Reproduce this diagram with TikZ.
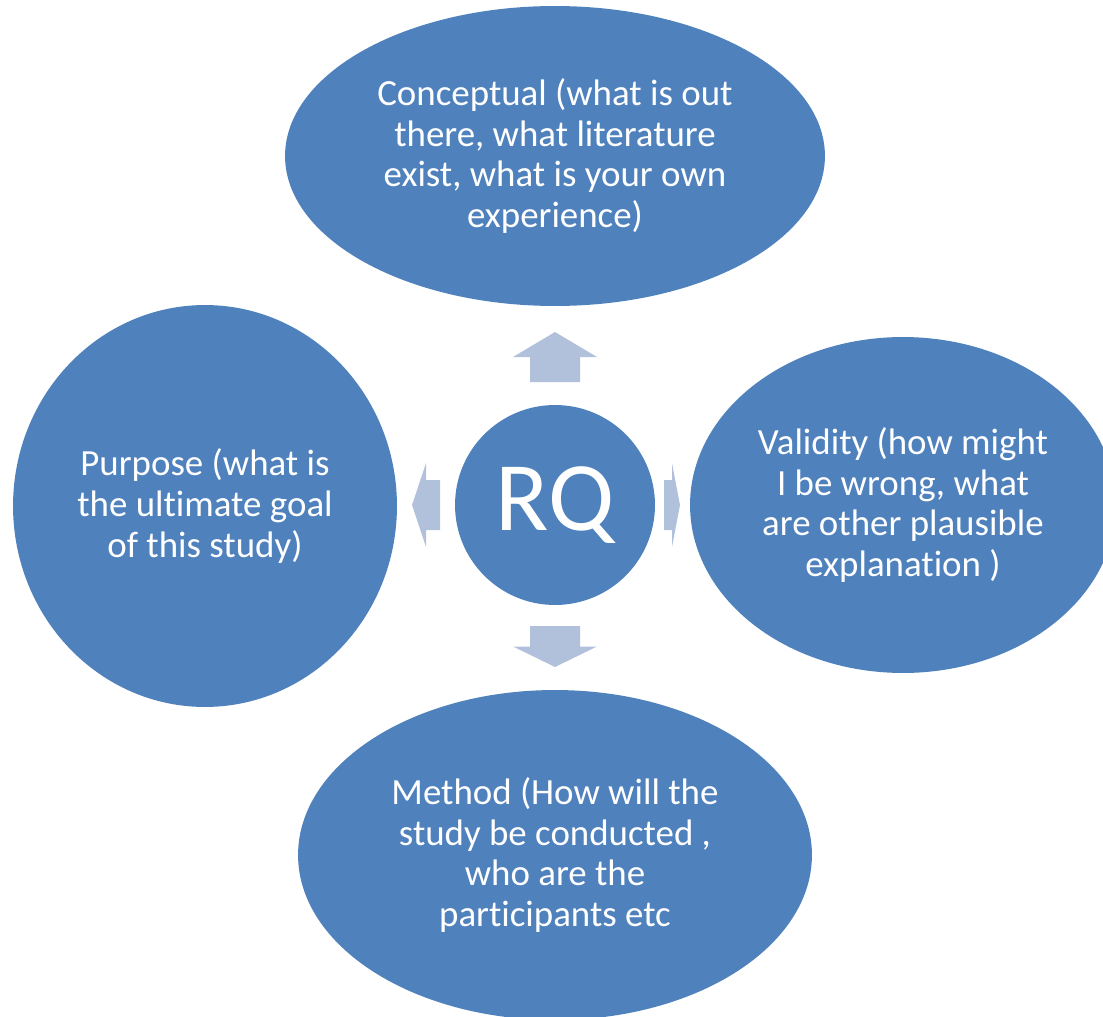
\documentclass[tikz,border=0pt]{standalone}
\usepackage{fontspec}
\setmainfont{Carlito}[Ligatures=NoCommon]
\usepackage{tikz}
\usetikzlibrary{shapes.geometric}
\definecolor{rqblue}{HTML}{4F81BD}
\definecolor{spokeblue}{HTML}{B2C1DB}
\tikzset{
  bub/.style={ellipse, fill=rqblue, draw=none, inner sep=0pt, align=center,
              text=white, font=\fontsize{21}{23.3}\selectfont},
  spoke/.style={fill=spokeblue, draw=none},
}

\begin{document}
\begin{tikzpicture}[x=0.02cm, y=-0.02cm]
\useasboundingbox (0,0) rectangle (1103,1017);

% ---------------- the question in the middle ------------------------------
\node[bub, circle, minimum size=4cm, font=\fontsize{56}{60}\selectfont]
  at (555,505) (rq) {RQ};

% ---------------- the four bubbles round it -------------------------------
\node[bub, minimum width=10.8cm, minimum height=6cm] at (555,156) (concept)
  {Conceptual (what is out\\there, what literature\\exist, what is your own\\experience)};

\node[bub, minimum width=7.68cm, minimum height=8.04cm] at (205,506) (purpose)
  {Purpose (what is\\the ultimate goal\\of this study)};

\node[bub, minimum width=8.52cm, minimum height=6.72cm] at (903,505) (validity)
  {Validity (how might\\I be wrong, what\\are other plausible\\explanation )};

\node[bub, minimum width=10.28cm, minimum height=6.6cm] at (555,855) (method)
  {Method (How will the\\study be conducted ,\\who are the\\participants etc};

% ---------------- block arrows pointing outwards --------------------------
\foreach \ang/\r/\R in {90/123/173, 270/121/162, 180/115/143, 0/109/125}{
  \pgfmathsetmacro{\m}{(\r+\R)/2}
  \begin{scope}[shift={(rq.center)}, rotate=\ang]
    \fill[spoke] (\r,-25) -- (\m,-25) -- (\m,-42) -- (\R,0)
                 -- (\m,42) -- (\m,25) -- (\r,25) -- cycle;
  \end{scope}
}
\end{tikzpicture}
\end{document}
